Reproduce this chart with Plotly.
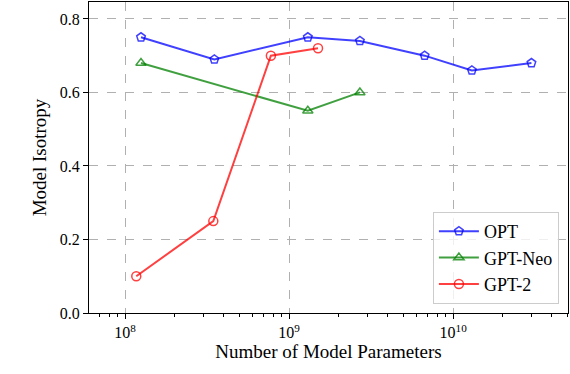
import plotly.graph_objects as go

opt_params = [125e6, 350e6, 1.3e9, 2.7e9, 6.7e9, 13e9, 30e9]
opt_iso = [0.75, 0.69, 0.75, 0.74, 0.70, 0.66, 0.68]

neo_params = [125e6, 1.3e9, 2.7e9]
neo_iso = [0.68, 0.55, 0.60]

gpt2_params = [117e6, 345e6, 774e6, 1.5e9]
gpt2_iso = [0.10, 0.25, 0.70, 0.72]

x_ticks = [1e8, 1e9, 1e10]
x_ticklabels = ["10<sup>8</sup>", "10<sup>9</sup>", "10<sup>10</sup>"]
y_ticks = [0.0, 0.2, 0.4, 0.6, 0.8]

FONT = "'Liberation Serif', 'DejaVu Serif', serif"

fig = go.Figure()
series = [
    ("OPT", opt_params, opt_iso, "rgba(0,0,255,0.75)", "pentagon-open"),
    ("GPT-Neo", neo_params, neo_iso, "rgba(0,128,0,0.75)", "triangle-up-open"),
    ("GPT-2", gpt2_params, gpt2_iso, "rgba(255,0,0,0.75)", "circle-open"),
]
for name, xs, ys, col, sym in series:
    fig.add_trace(go.Scatter(
        x=xs, y=ys, name=name, mode="lines+markers",
        line=dict(color=col, width=2),
        marker=dict(symbol=sym, size=9, color=col, line=dict(width=1.5, color=col)),
    ))

minor_vals = [m * 10 ** e for e in range(7, 11) for m in range(2, 10)]

fig.update_layout(
    width=570, height=374,
    margin=dict(l=89, r=2, t=2, b=61),
    paper_bgcolor="white", plot_bgcolor="white",
    font=dict(family=FONT, size=16, color="black"),
    showlegend=True,
    legend=dict(
        x=0.981, y=0.029, xanchor="right", yanchor="bottom",
        bgcolor="rgba(255,255,255,0.8)", bordercolor="#cccccc", borderwidth=1,
        font=dict(family=FONT, size=18), itemwidth=40,
    ),
    xaxis=dict(
        type="log", range=[7.78, 10.70],
        tickvals=x_ticks, ticktext=x_ticklabels,
        ticks="outside", ticklen=5, tickwidth=1, tickcolor="black",
        showline=True, linecolor="black", linewidth=1.2, mirror=True,
        showgrid=True, gridcolor="#b0b0b0", griddash="dash", gridwidth=1,
        minor=dict(tickvals=minor_vals, ticks="outside", ticklen=3, tickcolor="black", showgrid=False),
        title=dict(text="Number of Model Parameters", standoff=3, font=dict(size=19)),
        zeroline=False,
    ),
    yaxis=dict(
        range=[0.0, 0.846],
        tickvals=y_ticks, ticktext=[f"{v:.1f}" for v in y_ticks],
        ticks="outside", ticklen=5, tickwidth=1, tickcolor="black",
        showline=True, linecolor="black", linewidth=1.2, mirror=True,
        showgrid=True, gridcolor="#b0b0b0", griddash="dash", gridwidth=1,
        title=dict(text="Model Isotropy", standoff=8, font=dict(size=19)),
        zeroline=False,
    ),
)

fig.write_html("out.html", post_script="document.body.style.margin='0';",
               config={"displayModeBar": False})
